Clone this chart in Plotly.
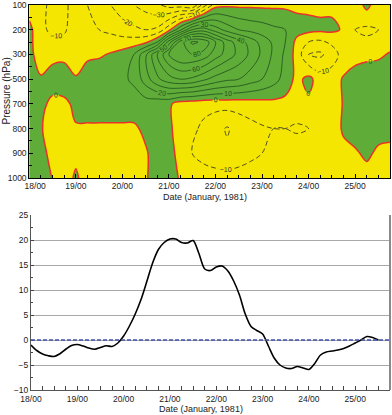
import plotly.graph_objects as go

# ---------------- data ----------------
pressure_labels = ["100", "200", "300", "500", "700", "800", "900", "1000"]
level_index = [0, 1, 2, 3, 4, 5, 6, 7]
# rows of the field: 100, 200, 250, 300, 500, 700, 800, 900, 1000 hPa
# (250 hPa sits midway between 200 and 300 on the index axis)
field_rows = [0, 1, 1.5, 2, 3, 4, 5, 6, 7]
date_labels = ["18/00", "19/00", "20/00", "21/00", "22/00", "23/00", "24/00", "25/00"]
date_hours = [0, 24, 48, 72, 96, 120, 144, 168]

grid_hours = [0, 6, 12, 18, 24, 30, 36, 42, 48, 54, 60, 66, 72, 78, 84, 90,
              96, 102, 108, 114, 120, 126, 132, 138, 144, 150, 156, 162, 168, 174, 180, 186]

z_100 = [-5, -8, -12, -11, -8, -10, -14, -20, -26, -30, -34, -38, -44, -45, -50, -25,
         -4, -2, -2, -2, -2, -2, -2, -2, -2, -2, -2, -2, -6, 3, -6, -8]
z_200 = [3, -8, -12, -11, -6, -8, -10, -12, -15, -18, -20, -18, -3, 18, 40, 45,
         35, 26, 20, 17, 15, 12, 10, 4, 3, 2, 2, -1, -10, -12, -10, -8]
z_250 = [3, -7, -8, -8, -6, -6, -6, -6, -6, -5, -2, 10, 45, 75, 92, 88,
         70, 55, 45, 36, 26, 18, 10, -3, -10, -12, -8, -4, -8, -8, -6, -4]
z_300 = [3, -5, -4, -4, -6, -3, -1.5, 1, 4, 10, 28, 50, 70, 80, 80, 76,
         65, 56, 47, 38, 28, 18, 8, -4, -20, -22, -15, -6, -5, -3, -2, 1]
z_500 = [5, 1, 6, 8, 1, 8, 8, 8, 8, 12, 25, 38, 46, 50, 48, 42,
         36, 32, 30, 25, 20, 14, 6, -3, 3, -5, -5, 1, 6, 7, 7, 7]
z_700 = [6, 3, -3, -3, 3, 5, 5, 5, 5, 5, 5, 3, 2, -5, -6, -7,
         -7, -6, -6, -5, -4, -3, -3, -6, -2, -10, -8, 1, 7, 8, 8, 7]
z_800 = [5, 1, -6, -6, -1, -1.5, -1.5, -1.5, -1.5, -1.5, 2, 4, 2, -5, -8, -12,
         -16, -21, -16, -13, -11, -10, -10, -11, -10, -8, -8, 2, 7, 8, 6, 5]
z_900 = [5, 3, -3, -4, -5, -5, -5, -5, -5, -4, -1, 4, 3, -3, -10, -13,
         -16, -18, -15, -12, -10, -8, -7, -6, -6, -6, -5, -4, -2, 3, -3, -4]
z_1000 = [5, 4, -0.3, -9, 3, -9, -5, -5, -5, -4, -1, 5, 4, -1, -5, -6,
          -6, -6, -6, -6, -6, -6, -5, -5, -5, -5, -5, -5, -5, -6, -5, -5]

series_hours = [0, 3, 6, 9, 12, 15, 18, 21, 24, 27, 30, 33, 36, 39, 42, 45, 48, 51, 54, 57,
                60, 63, 66, 69, 72, 75, 78, 81, 84, 87, 90, 93, 96, 99, 102, 105, 108, 111,
                114, 117, 120, 123, 126, 129, 132, 135, 138, 141, 144, 147, 150, 153, 156,
                159, 162, 165, 168, 171, 174, 177, 180]
series_values = [-1.0, -2.1, -2.8, -3.15, -3.3, -2.75, -1.85, -1.1, -0.9, -1.2, -1.6, -1.85,
                 -1.5, -1.15, -1.3, -0.6, 0.8, 2.8, 5.2, 8.1, 11.7, 15.4, 18.1, 19.5, 20.2,
                 20.2, 19.5, 19.4, 19.9, 17.3, 14.2, 13.9, 14.6, 14.8, 13.8, 11.8, 9.0, 5.2,
                 2.7, 1.9, 1.2, -1.2, -3.6, -5.0, -5.6, -5.7, -5.3, -5.6, -5.9, -4.7, -3.0,
                 -2.4, -2.2, -2.0, -1.7, -1.2, -0.6, 0.0, 0.7, 0.5, 0.0]

# ---------------- style ----------------
W, H = 392, 415
YEL = "#f4e600"
GRN = "#5fac38"
DKGRN = "#1f4f1f"
RED = "#e8322a"
FONT = "Liberation Sans, Arial, sans-serif"
NB = "\u00a0"

z_field = [z_100, z_200, z_250, z_300, z_500, z_700, z_800, z_900, z_1000]
# first top-axis date label nudged right of the "1000" label, as in the source
top_date_labels = [NB * 5 + date_labels[0]] + date_labels[1:]

def px_x(p):
    return p / W

def px_y(p):
    return 1 - p / H

fig = go.Figure()

common = dict(z=z_field, x=grid_hours, y=field_rows, autocontour=False,
              showscale=False, hoverinfo="skip", xaxis="x", yaxis="y")

# filled sign field
fig.add_trace(go.Contour(
    contours=dict(start=-10, end=10, size=10, coloring="fill", showlines=False),
    colorscale=[[0, YEL], [0.5, YEL], [0.5, GRN], [1, GRN]],
    line=dict(width=0, smoothing=1), **common,
))
# positive contours
fig.add_trace(go.Contour(
    contours=dict(start=10, end=90, size=10, coloring="none", showlabels=True,
                  labelfont=dict(size=7, color=DKGRN, family=FONT)),
    line=dict(color=DKGRN, width=0.8, smoothing=1), **common,
))
# negative contours
fig.add_trace(go.Contour(
    contours=dict(start=-60, end=-10, size=10, coloring="none", showlabels=True,
                  labelfont=dict(size=7, color="#333333", family=FONT)),
    line=dict(color="#2a2a2a", width=0.8, dash="5px,3px", smoothing=1), **common,
))
# zero contour
fig.add_trace(go.Contour(
    contours=dict(start=0, end=0.5, size=10, coloring="none", showlabels=True,
                  labelfont=dict(size=7, color=DKGRN, family=FONT)),
    line=dict(color=RED, width=1.5, smoothing=1), **common,
))

# bottom line
fig.add_trace(go.Scatter(
    x=series_hours, y=series_values, mode="lines",
    line=dict(color="black", width=1.6, shape="spline", smoothing=0.8),
    hoverinfo="skip", showlegend=False, xaxis="x2", yaxis="y2",
))

tickfont = dict(size=8.5, color="#222222", family=FONT)

fig.update_layout(
    width=W, height=H,
    margin=dict(l=0, r=0, t=0, b=0, autoexpand=False),
    paper_bgcolor="white", plot_bgcolor="white",
    showlegend=False,
    font=dict(family=FONT, size=9, color="#222222"),
    xaxis=dict(
        domain=[px_x(29.3), px_x(390)], anchor="y", automargin=False,
        range=[0, 186], tickvals=date_hours, ticktext=top_date_labels,
        ticks="inside", ticklen=4, tickcolor="black", tickwidth=1,
        minor=dict(dtick=6, tick0=0, ticks="inside", ticklen=3, tickcolor="black"),
        showline=True, linecolor="black", linewidth=1, mirror=True,
        showgrid=False, zeroline=False, tickfont=tickfont, ticklabelstandoff=0,
        ticklabeloverflow="allow",
    ),
    yaxis=dict(
        domain=[px_y(178), px_y(5)], anchor="x", automargin=False,
        range=[7, 0], tickvals=level_index, ticktext=pressure_labels,
        ticks="inside", ticklen=4, tickcolor="black", tickwidth=1,
        minor=dict(dtick=0.5, tick0=0, ticks="inside", ticklen=2.5, tickcolor="black"),
        showline=True, linecolor="black", linewidth=1, mirror=True,
        showgrid=False, zeroline=False, tickfont=tickfont,
        ticklabeloverflow="allow",
    ),
    xaxis2=dict(
        domain=[px_x(31), px_x(390)], anchor="y2", automargin=False,
        range=[0, 186], tickvals=date_hours, ticktext=date_labels,
        ticks="inside", ticklen=4, tickcolor="#444444", tickwidth=1,
        minor=dict(dtick=6, tick0=0, ticks="inside", ticklen=4, tickcolor="#444444"),
        showline=True, linecolor="#555555", linewidth=1,
        showgrid=False, zeroline=False, tickfont=tickfont, ticklabelstandoff=1,
        ticklabeloverflow="allow",
    ),
    yaxis2=dict(
        domain=[px_y(390), px_y(215)], anchor="x2", automargin=False,
        range=[-10, 25], dtick=5, tick0=0,
        ticks="inside", ticklen=3, tickcolor="#444444",
        minor=dict(dtick=2.5, ticks="inside", ticklen=2, tickcolor="#444444"),
        showline=True, linecolor="#555555", linewidth=1,
        showgrid=True, gridcolor="#a8a8a8", gridwidth=1,
        zeroline=False, tickfont=tickfont,
        ticklabeloverflow="allow",
    ),
    shapes=[
        dict(type="line", xref="x2 domain", yref="y2", x0=0, x1=1, y0=0, y1=0,
             line=dict(color="#4250a8", width=1.5, dash="4px,2px")),
        dict(type="line", xref="x2 domain", yref="y2 domain", x0=1, x1=1, y0=0, y1=1,
             line=dict(color="#8a8a8a", width=2)),
    ],
    annotations=[
        dict(text="Pressure (hPa)", x=px_x(6), y=px_y(91.5), xref="paper", yref="paper",
             xanchor="center", yanchor="middle",
             textangle=-90, showarrow=False, font=dict(size=10, color="#222222", family=FONT)),
        dict(text="Date (January, 1981)", x=px_x(205), y=px_y(197), xref="paper", yref="paper",
             xanchor="center", yanchor="middle",
             showarrow=False, font=dict(size=9, color="#222222", family=FONT)),
        dict(text="Date (January, 1981)", x=px_x(201), y=px_y(409), xref="paper", yref="paper",
             xanchor="center", yanchor="middle",
             showarrow=False, font=dict(size=9, color="#222222", family=FONT)),
    ],
)

fig.write_html("out.html", config={"displayModeBar": False},
               post_script="document.body.style.margin='0';document.body.style.overflow='hidden';")
